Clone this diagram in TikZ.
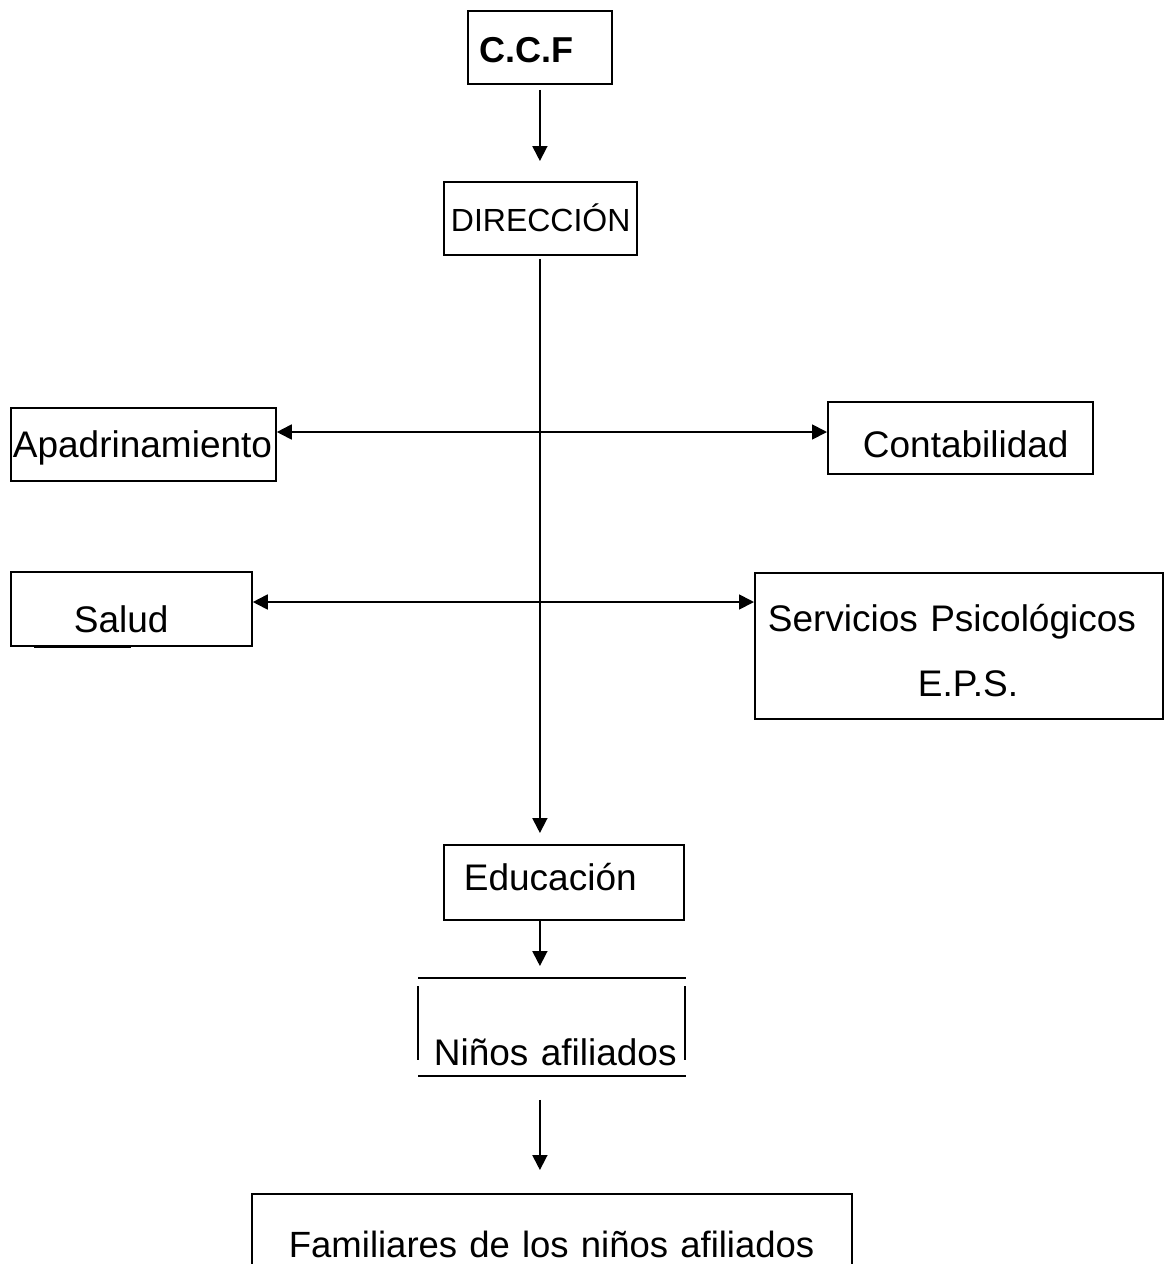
\documentclass[tikz,border=0pt]{standalone}
\usepackage{fontspec}
\setmainfont{Liberation Sans}
\usetikzlibrary{arrows.meta, positioning, calc}
\tikzset{
  caja/.style={
    rectangle, draw=black, line width=1.8pt, anchor=north west,
    inner sep=0pt, align=left
  },
  flecha/.style={
    -{Triangle[length=15pt,width=15pt]}, line width=1.8pt
  },
  doble/.style={
    {Triangle[length=15pt,width=15pt]}-{Triangle[length=15pt,width=15pt]}, line width=1.8pt
  }
}

\begin{document}
\begin{tikzpicture}[x=1pt, y=-1pt, every node/.style={font=\fontsize{37pt}{44pt}\selectfont}]
    \useasboundingbox (0,0) rectangle (1163,1264);

    % Dirección
    \node[caja, text width=144pt, text height=52pt, text depth=21pt, font=\fontsize{36pt}{43pt}\selectfont\bfseries] (ccf) at (467,10) {\hspace*{12pt}C.C.F};
    \node[caja, text width=193pt, text height=50pt, text depth=23pt, font=\fontsize{32pt}{38pt}\selectfont] (dir) at (443,181) {\hspace*{7pt}DIRECCIÓN};

    % Áreas
    \node[caja, text width=265pt, text height=50pt, text depth=23pt] (apa) at (10,407) {\hspace*{2pt}Apadrinamiento};
    \node[caja, text width=265pt, text height=56pt, text depth=16pt] (cont) at (827,401) {\hspace*{35pt}Contabilidad};
    \node[caja, text width=241pt, text height=61pt, text depth=13pt] (sal) at (10,571) {\hspace*{63pt}Salud};
    \node[caja, text width=408pt, text height=59pt, text depth=87pt, font=\fontsize{37pt}{65pt}\selectfont] (serv) at (754,572) {\hspace*{13pt}Servicios Psicológicos\\\hspace*{163pt}E.P.S.};
    \draw[line width=2.6pt] ([xshift=24pt]sal.south west) -- ([xshift=121pt]sal.south west);

    % Educación y beneficiarios
    \node[caja, text width=240pt, text height=46pt, text depth=29pt] (edu) at (443,844) {\hspace*{20pt}Educación};
    \node[caja, draw=none, text width=266pt, text height=87pt, text depth=9pt] (nin) at (418,978) {\hspace*{15pt}Niños afiliados};
    \draw[line width=1.8pt] (nin.north west) -- (nin.north east);
    \draw[line width=1.8pt] (nin.south west) -- (nin.south east);
    \draw[line width=1.8pt] ([yshift=-8pt]nin.north west) -- ([yshift=16pt]nin.south west);
    \draw[line width=1.8pt] ([xshift=-1pt,yshift=-8pt]nin.north east) -- ([xshift=-1pt,yshift=16pt]nin.south east);
    \node[caja, text width=600pt, text height=64pt, text depth=40pt, font=\fontsize{36.5pt}{43pt}\selectfont] (fam) at (251,1193) {\hspace*{37pt}Familiares de los niños afiliados};

    % Flechas
    \coordinate (hA) at (539,432);
    \coordinate (hS) at (539,602);
    \draw[flecha, shorten <=5pt, shorten >=20pt] (ccf.south) -- (ccf.south |- dir.north);
    \draw[flecha, shorten <=3pt, shorten >=11pt] (ccf.south |- dir.south) -- (ccf.south |- edu.north);
    \draw[doble] (apa.east |- hA) -- (cont.west |- hA);
    \draw[doble] (sal.east |- hS) -- (serv.west |- hS);
    \draw[flecha, shorten >=12pt] (ccf.south |- edu.south) -- (ccf.south |- nin.north);
    \draw[flecha, shorten <=24pt, shorten >=23pt] (ccf.south |- nin.south) -- (ccf.south |- fam.north);

\end{tikzpicture}
\end{document}
